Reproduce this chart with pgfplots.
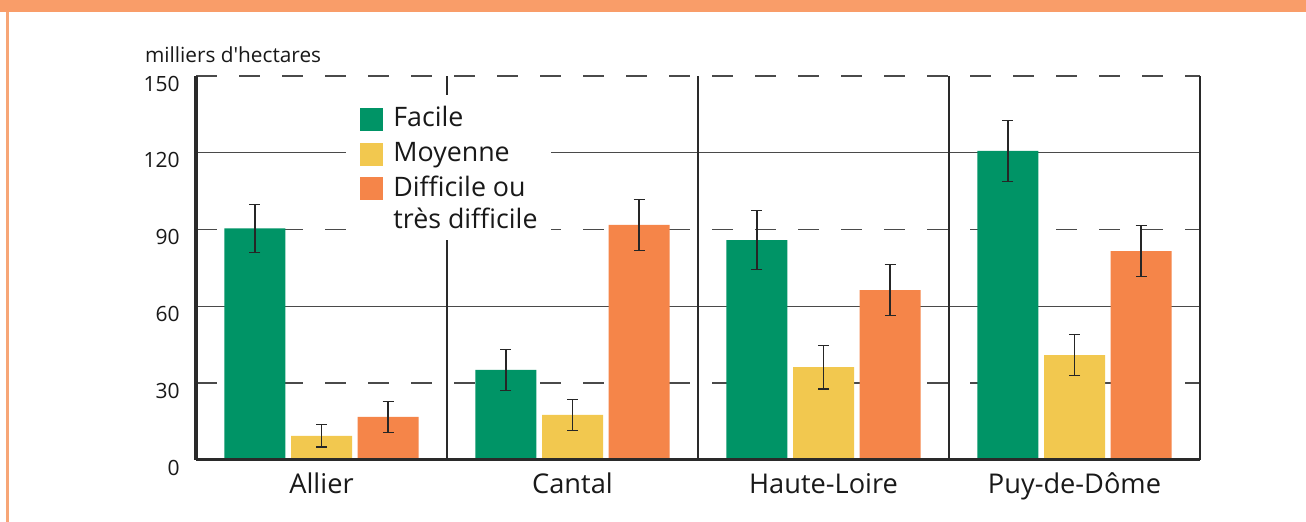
\documentclass[border=0pt]{standalone}
\usepackage{pgfplots}
\pgfplotsset{compat=1.18}
\usepackage{fontspec}
\setmainfont{Open Sans}
\definecolor{cgreen}{HTML}{009466}
\definecolor{cyellow}{HTML}{F2C84F}
\definecolor{corange}{HTML}{F58549}
\definecolor{chdr}{HTML}{F99D69}
\definecolor{cbord}{HTML}{F7A677}
\definecolor{cline}{HTML}{2A2A2A}
\definecolor{cgrid}{HTML}{4A4A4A}
\begin{document}
\begin{tikzpicture}
\useasboundingbox (0,0) rectangle (653pt,261pt);
\fill[white] (0,0) rectangle (653pt,261pt);
\fill[chdr] (0,255pt) rectangle (653pt,261pt);
\fill[cbord] (3pt,0) rectangle (4.5pt,255pt);
\begin{axis}[
  at={(98pt,31pt)}, anchor=south west,
  scale only axis, width=502pt, height=192pt,
  xmin=-0.5, xmax=3.5, ymin=0, ymax=150,
  axis line style={draw=none},
  major tick length=0pt,
  ytick={0,30,90,150},
  extra y ticks={60,120},
  extra y tick style={grid=major, major grid style={solid, line width=0.7pt, draw=cgrid}},
  ymajorgrids,
  major grid style={dash pattern=on 10.5pt off 11pt, line width=0.7pt, draw=cgrid},
  xtick={0,1,2,3},
  xticklabels={Allier,Cantal,Haute-Loire,Puy-de-Dôme},
  /pgf/number format/assume math mode=true,
  yticklabel style={font=\fontsize{10.5}{12}\selectfont, anchor=east, inner sep=0pt, xshift=-8pt, yshift=-3.8pt, text=black!90},
  xticklabel style={font=\fontsize{13.6}{15}\selectfont, anchor=base, inner sep=0pt, yshift=-16.7pt, text=black!90},
  ybar, bar width=30.5pt, bar shift=0pt,
  error bars/y dir=both, error bars/y explicit,
  error bars/error bar style={line width=0.7pt, draw=black!85},
  error bars/error mark options={rotate=90, mark size=2.75pt, line width=0.7pt, draw=black!85},
  clip=false,
]
\addplot[fill=cgreen, draw=none] coordinates {
  (-0.265,90.5) +- (0,9.4)
  (0.735,35.2) +- (0,8)
  (1.735,85.9) +- (0,11.5)
  (2.735,120.7) +- (0,12)
};
\addplot[fill=cyellow, draw=none] coordinates {
  (0,9.4) +- (0,4.4)
  (1,17.6) +- (0,6)
  (2,36.3) +- (0,8.5)
  (3,41.0) +- (0,8)
};
\addplot[fill=corange, draw=none] coordinates {
  (0.265,16.8) +- (0,6)
  (1.265,91.8) +- (0,9.9)
  (2.265,66.4) +- (0,10)
  (3.265,81.6) +- (0,10)
};
\draw[cline, line width=2pt] (axis cs:-0.5,0) -- (axis cs:-0.5,150);
\draw[cline, line width=1.2pt] (axis cs:0.5,0) -- (axis cs:0.5,150);
\draw[cline, line width=1.2pt] (axis cs:1.5,0) -- (axis cs:1.5,150);
\draw[cline, line width=1.2pt] (axis cs:2.5,0) -- (axis cs:2.5,150);
\draw[cline, line width=1.2pt] (axis cs:3.5,0) -- (axis cs:3.5,150);
\draw[cline, line width=1.5pt] (axis cs:-0.5,0) -- (axis cs:3.5,0);
\end{axis}
% legend
\fill[white] (173pt,141pt) rectangle (275.5pt,213.5pt);
\fill[cgreen] (180pt,195.5pt) rectangle (191.5pt,207pt);
\fill[cyellow] (180pt,178.2pt) rectangle (191.5pt,189.7pt);
\fill[corange] (180pt,161pt) rectangle (191.5pt,172.5pt);
\begin{scope}[every node/.style={anchor=base west, inner sep=0pt, text=black!90, font=\fontsize{13.4}{15}\selectfont}]
\node at (196.5pt,197.7pt) {Facile};
\node at (196.5pt,180.2pt) {Moyenne};
\node at (196.5pt,162.7pt) {Difficile ou};
\node at (196.5pt,146.8pt) {très difficile};
\end{scope}
\node[anchor=base west, inner sep=0pt, text=black!90, font=\fontsize{10.4}{12}\selectfont] at (72.3pt,229.7pt) {milliers d\textquotesingle hectares};
\end{tikzpicture}
\end{document}
